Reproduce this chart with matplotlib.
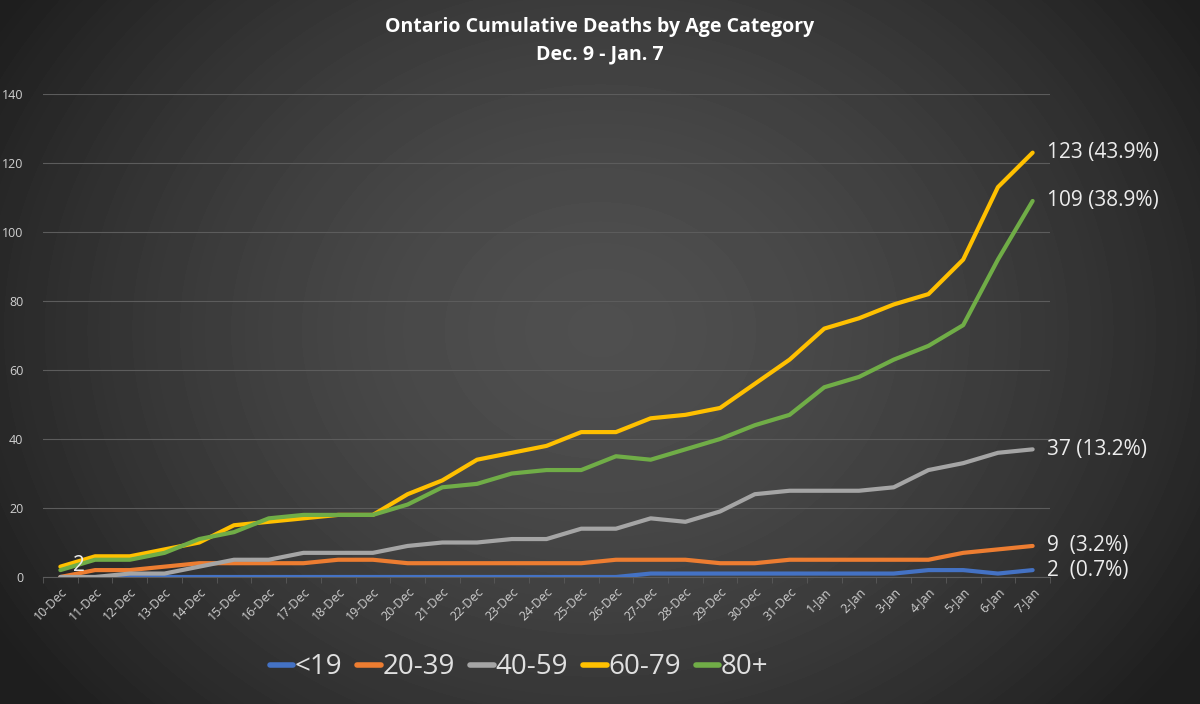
import numpy as np
import matplotlib
matplotlib.use("Agg")
import matplotlib.pyplot as plt

plt.rcParams['font.family'] = ['Open Sans', 'DejaVu Sans']

DAYS = ["10-Dec", "11-Dec", "12-Dec", "13-Dec", "14-Dec", "15-Dec", "16-Dec",
        "17-Dec", "18-Dec", "19-Dec", "20-Dec", "21-Dec", "22-Dec", "23-Dec",
        "24-Dec", "25-Dec", "26-Dec", "27-Dec", "28-Dec", "29-Dec", "30-Dec",
        "31-Dec", "1-Jan", "2-Jan", "3-Jan", "4-Jan", "5-Jan", "6-Jan", "7-Jan"]

AGE_LT19 = [0, 0, 0, 0, 0, 0, 0, 0, 0, 0, 0, 0, 0, 0, 0, 0, 0, 1, 1, 1, 1, 1,
            1, 1, 1, 2, 2, 1, 2]
AGE_20_39 = [0, 2, 2, 3, 4, 4, 4, 4, 5, 5, 4, 4, 4, 4, 4, 4, 5, 5, 5, 4, 4, 5,
             5, 5, 5, 5, 7, 8, 9]
AGE_40_59 = [0, 0, 1, 1, 3, 5, 5, 7, 7, 7, 9, 10, 10, 11, 11, 14, 14, 17, 16,
             19, 24, 25, 25, 25, 26, 31, 33, 36, 37]
AGE_60_79 = [3, 6, 6, 8, 10, 15, 16, 17, 18, 18, 24, 28, 34, 36, 38, 42, 42,
             46, 47, 49, 56, 63, 72, 75, 79, 82, 92, 113, 123]
AGE_80P = [2, 5, 5, 7, 11, 13, 17, 18, 18, 18, 21, 26, 27, 30, 31, 31, 35, 34,
           37, 40, 44, 47, 55, 58, 63, 67, 73, 92, 109]

labels = ["<19", "20-39", "40-59", "60-79", "80+"]
series = [AGE_LT19, AGE_20_39, AGE_40_59, AGE_60_79, AGE_80P]
colors = ["#4472c4", "#ed7d31", "#a5a5a5", "#ffc000", "#70ad47"]
end_labels = ["2  (0.7%)", "9  (3.2%)", "37 (13.2%)", "123 (43.9%)", "109 (38.9%)"]

fig = plt.figure(figsize=(12, 7.04), dpi=100)

# radial dark gradient background
bg = fig.add_axes([0, 0, 1, 1], zorder=-10)
yy, xx = np.mgrid[0:704, 0:1200]
r = np.sqrt(((xx - 600) / 680.0) ** 2 + ((yy - 330) / 560.0) ** 2)
grad = np.clip(0.31 - 0.18 * r ** 1.6, 0.12, 0.32)
bg.imshow(grad, cmap="gray", vmin=0, vmax=1, aspect="auto",
          extent=[0, 1, 0, 1], interpolation="bilinear")
bg.axis("off")

ax = fig.add_axes([43 / 1200, 1 - 577 / 704, (1050 - 43) / 1200, (577 - 94) / 704])
ax.set_facecolor("none")

x = np.arange(len(DAYS))
for vals, lab, c in zip(series, labels, colors):
    ax.plot(x, vals, color=c, lw=3.0, label=lab, solid_capstyle="round",
            solid_joinstyle="round", zorder=3)

for vals, txt in zip(series, end_labels):
    ax.annotate(txt, xy=(x[-1], vals[-1]), xytext=(10, 0),
                textcoords="offset points", va="center", ha="left",
                fontsize=15, color="#ececec", annotation_clip=False)

ax.annotate("2", xy=(0, 0), xytext=(9, 1), textcoords="offset points",
            va="bottom", ha="left", fontsize=15, color="#ececec")

ax.set_xlim(-0.5, len(DAYS) - 0.5)
ax.set_ylim(0, 140)
ax.set_yticks(range(0, 141, 20))
ax.set_xticks(x)
ax.set_xticklabels(DAYS, rotation=45, ha="right", rotation_mode="anchor")
ax.tick_params(axis="x", colors="#d0d0d0", labelsize=9, length=0, pad=6)
ax.set_xticks(np.arange(-0.5, len(DAYS), 1), minor=True)
ax.tick_params(axis="x", which="minor", length=4, color="#5a5a5a")
ax.tick_params(axis="y", colors="#d0d0d0", labelsize=9, length=0, pad=14)
ax.grid(axis="y", color="#5c5c5c", lw=0.8)
ax.set_axisbelow(True)
for s in ["top", "right", "left"]:
    ax.spines[s].set_visible(False)
ax.spines["bottom"].set_color("#5c5c5c")

fig.text(0.5, 0.962, "Ontario Cumulative Deaths by Age Category", ha="center",
         va="center", color="white", fontsize=14, fontweight="bold")
fig.text(0.5, 0.922, "Dec. 9 - Jan. 7", ha="center", va="center",
         color="white", fontsize=14, fontweight="bold")

leg = fig.legend(loc="center", bbox_to_anchor=(0.4325, 0.052), ncol=5,
                 frameon=False, fontsize=20, handlelength=0.85,
                 handletextpad=0.05, columnspacing=0.55, labelcolor="#e0e0e0")
for h in leg.get_lines():
    h.set_linewidth(4)

fig.savefig("out.png", dpi=100)
